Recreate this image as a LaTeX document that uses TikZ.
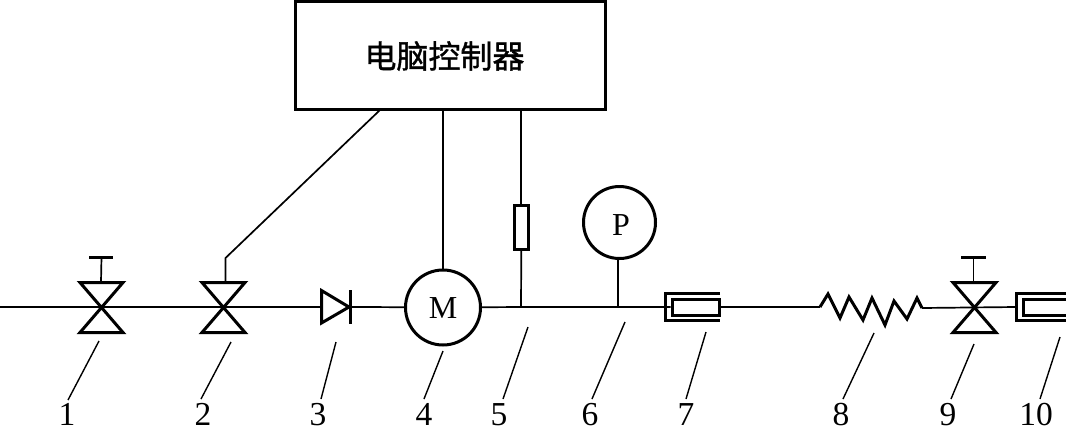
\documentclass[tikz,border=0pt]{standalone}
\usepackage{fontspec}
\setmainfont{Liberation Serif}
\newfontfamily\cjk{Noto Sans CJK SC}[FakeBold=1.2]
\tikzset{
  x=1pt,y=-1pt,
  thinline/.style={line width=1.7pt,black},
  heavyline/.style={line width=3pt,black,line join=miter},
  leader/.style={line width=1.4pt,black},
  ctrlbox/.style={draw,line width=3pt,rectangle,minimum width=310pt,minimum height=107.5pt,inner sep=0pt},
  ctrltext/.style={inner sep=0pt,font=\cjk\fontsize{32}{33}\selectfont},
  dial/.style={draw,circle,line width=3pt,inner sep=0pt,fill=white},
  dialtext/.style={inner sep=0pt,font=\fontsize{32}{33}\selectfont},
  num/.style={inner sep=0pt,anchor=base,font=\fontsize{33.5}{36}\selectfont},
  resist/.style={draw,rectangle,line width=2.6pt,fill=white,minimum width=14pt,minimum height=44pt,inner sep=0pt},
}
\newcommand{\valve}[1]{%
  \draw[heavyline] (#1) ++(-21.5,-24.5) -- ++(43,0) -- ++(-43,50) -- ++(43,0) -- cycle;
}
\begin{document}
\begin{tikzpicture}
\useasboundingbox (0,0) rectangle (1066,426);
% pipe coordinates
\coordinate (w0) at (0,307);
\coordinate (v1) at (101.5,307);
\coordinate (v2) at (223.5,307);
\coordinate (d1) at (303,307);
\coordinate (d2) at (367,307);
\coordinate (j5) at (521,307);
\coordinate (j6) at (618,307);
\coordinate (s1) at (820,307);
\coordinate (s2) at (922,308);
\coordinate (v9) at (974.5,307);
\coordinate (c10) at (1016,307);
% nodes
\node[ctrlbox] (ctrl) at (450.5,55.3) {};
\node[ctrltext] (ctrllabel) at (444.5,56) {电脑控制器};
\node[dial,minimum size=75pt] (motor) at (443,307.5) {};
\node[dialtext] (motorlabel) at (443,308.5) {M};
\node[dial,minimum size=72pt] (gauge) at (619.5,222.5) {};
\node[dialtext] (gaugelabel) at (621,225.5) {P};
\node[resist] (res) at (521.3,227.5) {};
\coordinate (c4) at (443,110);
\coordinate (c5) at (521.3,110);
\coordinate (c2) at (380,110);
% box 7 (closed inner)
\node[draw,rectangle,line width=3pt,minimum width=47pt,minimum height=16pt,inner sep=0pt] (box7) at (695.5,307) {};
\draw[heavyline] (720,293.5) -- (665.5,293.5) -- (665.5,320.5) -- (720,320.5);
% pipe
\draw[thinline] (w0) -- (d1);
\draw[thinline] (d2) -- (motor);
\draw[thinline] (motor) -- (j5) -- (j6) -- (box7.west);
\draw[thinline] (box7.east) -- (s1);
\draw[thinline] (s2) -- (c10);
% valves
\valve{v1}
\valve{v2}
\valve{v9}
\coordinate (t1) at (101.5,257);
\coordinate (t9) at (973.5,257);
\draw[thinline] (101,282) -- (t1);
\draw[heavyline] (89,257) -- (113,257);
\draw[thinline] (973.5,282) -- (t9);
\draw[heavyline] (961,257) -- (986,257);
% signal lines
\coordinate (k2) at (225.5,258);
\draw[thinline] (225.5,282) -- (k2) -- (c2);
\draw[thinline] (c4) -- (motor.north);
\draw[thinline] (c5) -- (res.north);
\draw[thinline] (res.south) -- (j5);
\draw[thinline] (gauge.south -| j6) -- (j6);
% check valve
\draw[line width=2.4pt] (d1) -- (321,307);
\draw[heavyline] (321.5,290.5) -- (349,307) -- (321.5,323) -- cycle;
\draw[heavyline] (350,290) -- (350,324);
\draw[line width=2.4pt] (350,307) -- (d2);
% spring
\draw[line width=3pt,line join=miter] (s1) -- (828,294) -- (840,318) -- (849,297) -- (863,320) -- (872,298) -- (885,325) -- (894,301) -- (907,319) -- (917,298) -- (s2);
% box 10
\draw[heavyline] (1066,293.5) -- (1016.5,293.5) -- (1016.5,320.5) -- (1066,320.5);
\draw[heavyline] (1066,299.5) -- (1023.5,299.5) -- (1023.5,315) -- (1066,315);
% leaders and numbers
\foreach \n/\xa/\ya/\xb/\yb/\tx in {
 1/99/341/68/400/67, 2/231/342/201/399/203, 3/336/342/321/399/318,
 4/443/351/424/399/424, 5/528/327/503/399/499, 6/625/322/592/399/590,
 7/706/332/686/399/686, 8/874/333/843/399/841, 9/974/344/951/399/948,
 10/1060/337/1040/399/1036}{
  \coordinate (la\n) at (\xa,\ya);
  \coordinate (lb\n) at (\xb,\yb);
  \draw[leader] (la\n) -- (lb\n);
  \node[num] (n\n) at (\tx,425) {\n};
}
\end{tikzpicture}
\end{document}
